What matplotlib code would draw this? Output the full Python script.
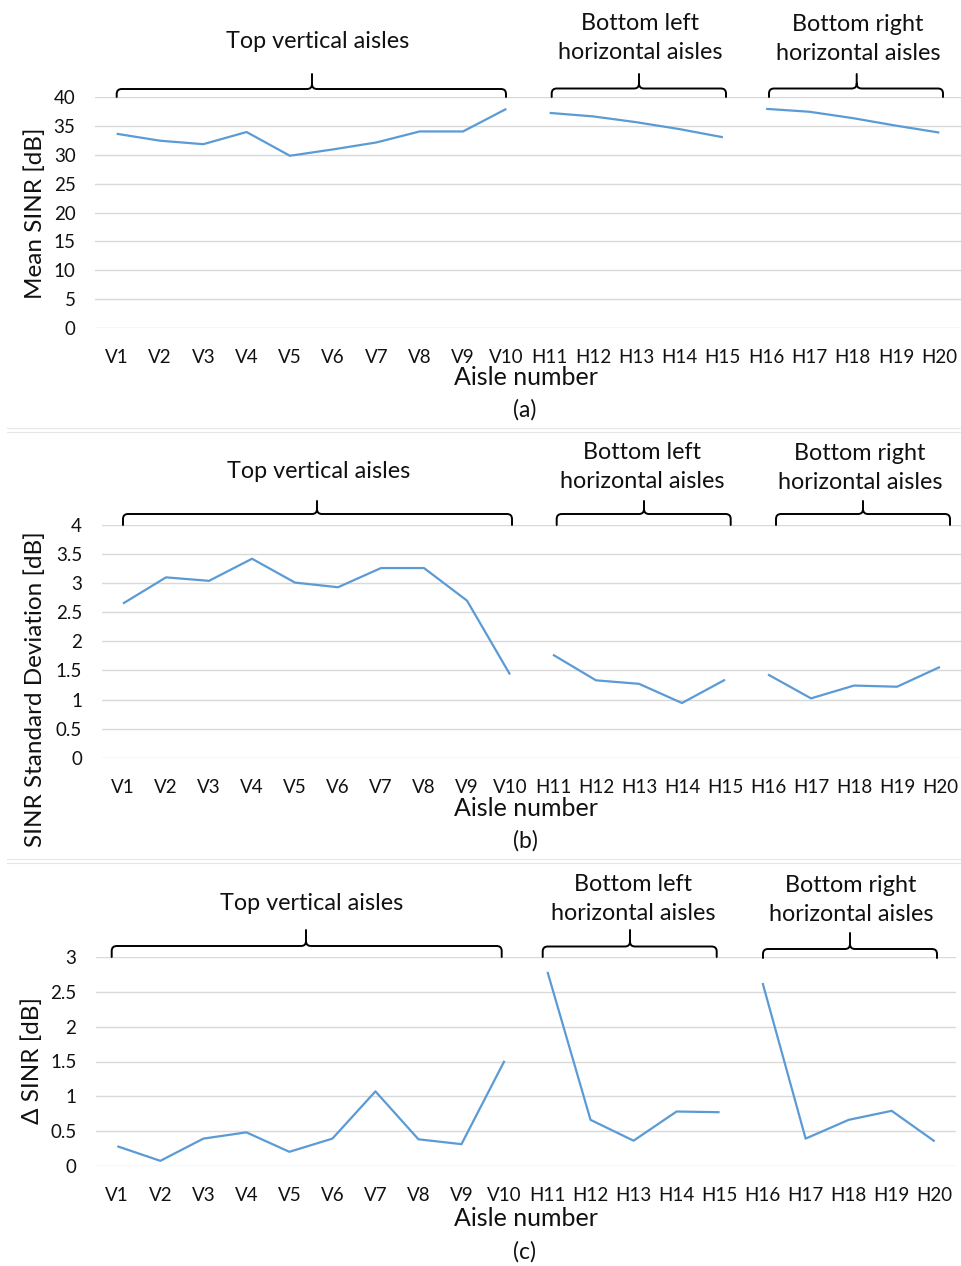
import numpy as np
import matplotlib
matplotlib.use("Agg")
import matplotlib.pyplot as plt
from matplotlib.path import Path
from matplotlib.patches import PathPatch
from matplotlib.lines import Line2D

plt.rcParams['font.family'] = ['Lato', 'DejaVu Sans']

# ---- data -------------------------------------------------------------
aisles = ['V1', 'V2', 'V3', 'V4', 'V5', 'V6', 'V7', 'V8', 'V9', 'V10',
          'H11', 'H12', 'H13', 'H14', 'H15', 'H16', 'H17', 'H18', 'H19', 'H20']

mean_sinr = [33.6, 32.4, 31.8, 33.9, 29.8, 30.9, 32.1, 34.0, 34.0, 37.9,
             37.2, 36.6, 35.6, 34.4, 33.0, 37.9, 37.4, 36.3, 35.0, 33.8]

std_sinr = [2.65, 3.10, 3.04, 3.42, 3.01, 2.93, 3.26, 3.26, 2.70, 1.43,
            1.77, 1.33, 1.27, 0.94, 1.34, 1.43, 1.02, 1.24, 1.22, 1.56]

delta_sinr = [0.28, 0.07, 0.39, 0.48, 0.20, 0.39, 1.07, 0.38, 0.31, 1.51,
              2.79, 0.66, 0.36, 0.78, 0.77, 2.63, 0.39, 0.66, 0.79, 0.35]

# aisle groups: (first index, last index)
groups = [(0, 9), (10, 14), (15, 19)]
group_names = ['Top vertical aisles', 'Bottom left\nhorizontal aisles',
               'Bottom right\nhorizontal aisles']

W, H = 961, 1266
LINE_BLUE = '#5B9BD5'
GRID = '#D9D9D9'
TEXT = '#111111'

fig = plt.figure(figsize=(W / 100, H / 100), dpi=100)


def px_rect(left, right, top, bottom):
    return [left / W, 1 - bottom / H, (right - left) / W, (bottom - top) / H]


def fx(x):
    return x / W


def fy(y):
    return 1 - y / H


def brace(x0, x1, ybot, ybar, xt, ytip, r=5):
    verts = [(x0, ybot), (x0, ybar + r), (x0, ybar), (x0 + r, ybar),
             (xt - r, ybar), (xt, ybar), (xt, ybar - r), (xt, ytip),
             (xt, ybar - r), (xt, ybar), (xt + r, ybar),
             (x1 - r, ybar), (x1, ybar), (x1, ybar + r), (x1, ybot)]
    codes = [Path.MOVETO, Path.LINETO, Path.CURVE3, Path.CURVE3,
             Path.LINETO, Path.CURVE3, Path.CURVE3, Path.LINETO,
             Path.MOVETO, Path.CURVE3, Path.CURVE3,
             Path.LINETO, Path.CURVE3, Path.CURVE3, Path.LINETO]
    verts = [(fx(a), fy(b)) for a, b in verts]
    fig.add_artist(PathPatch(Path(verts, codes), transform=fig.transFigure,
                             fill=False, edgecolor='black', lw=1.4,
                             capstyle='round', joinstyle='round'))


def panel(rect, values, ymax, ystep, ylabel, ylab_xy, xlab_y, tag, tag_y,
          braces, texts):
    ax = fig.add_axes(px_rect(*rect))
    x = np.arange(len(aisles))
    for a, b in groups:
        ax.plot(x[a:b + 1], values[a:b + 1], color=LINE_BLUE, lw=1.6,
                solid_capstyle='butt')
    ax.set_xlim(-0.5, len(aisles) - 0.5)
    ax.set_ylim(0, ymax)
    ticks = np.arange(0, ymax + ystep / 2, ystep)
    ax.set_yticks(ticks)
    ax.set_yticklabels([f'{t:g}' for t in ticks])
    ax.set_xticks(x)
    ax.set_xticklabels(aisles)
    ax.tick_params(axis='both', length=0, labelsize=13.5, colors=TEXT)
    ax.tick_params(axis='x', pad=15)
    ax.tick_params(axis='y', pad=14)
    ax.grid(axis='y', color=GRID, lw=1)
    ax.set_axisbelow(True)
    for s in ax.spines.values():
        s.set_visible(False)
    fig.text(fx(ylab_xy[0]), fy(ylab_xy[1]), ylabel, rotation=90,
             ha='center', va='center', fontsize=17.5, color=TEXT)
    fig.text(fx(526), fy(xlab_y), 'Aisle number', ha='center', va='center',
             fontsize=18, color=TEXT)
    fig.text(fx(525), fy(tag_y), tag, ha='center', va='center',
             fontsize=16.5, color=TEXT)
    for bx in braces:
        brace(*bx)
    for (tx, ty, s) in texts:
        fig.text(fx(tx), fy(ty), s, ha='center', va='center',
                 fontsize=16.8, color=TEXT, linespacing=1.5)
    return ax


# (a) mean SINR
panel((95, 961, 96.7, 328.3), mean_sinr, 40, 5, 'Mean SINR [dB]',
      (35, 213), 377, '(a)', 410,
      [(116.7, 506, 97, 89, 312, 74),
       (551.7, 726, 97, 88.5, 639, 74),
       (769, 943, 97, 88.5, 856.7, 74)],
      [(318, 42, group_names[0]), (640, 38, group_names[1]),
       (858, 39, group_names[2])])

# (b) SINR standard deviation
panel((101.5, 961.5, 525, 757.7), std_sinr, 4, 0.5,
      'SINR Standard Deviation [dB]', (35, 689), 808, '(b)', 841,
      [(123, 512, 525, 514, 317, 501),
       (556.7, 730.7, 525, 514, 644, 501),
       (776, 950, 525, 514, 863, 501)],
      [(319, 472, group_names[0]), (642, 467, group_names[1]),
       (860, 468, group_names[2])])

# (c) delta SINR
panel((95.8, 956.2, 957.3, 1165.7), delta_sinr, 3, 0.5, 'Δ SINR [dB]',
      (32, 1060), 1219, '(c)', 1252,
      [(111.7, 501.7, 957, 946, 306, 930),
       (542.7, 716.7, 957, 946.5, 630, 930),
       (763, 937, 958, 949, 850, 933)],
      [(312, 904, group_names[0]), (633, 899, group_names[1]),
       (851, 900, group_names[2])])

# faint separators between the panels
for y0 in (427.7, 432.3, 859, 863.3):
    fig.add_artist(Line2D([fx(7), fx(961)], [fy(y0), fy(y0)],
                          transform=fig.transFigure, color='#E6E6E6', lw=0.8))

fig.savefig('out.png', dpi=100, facecolor='white')
